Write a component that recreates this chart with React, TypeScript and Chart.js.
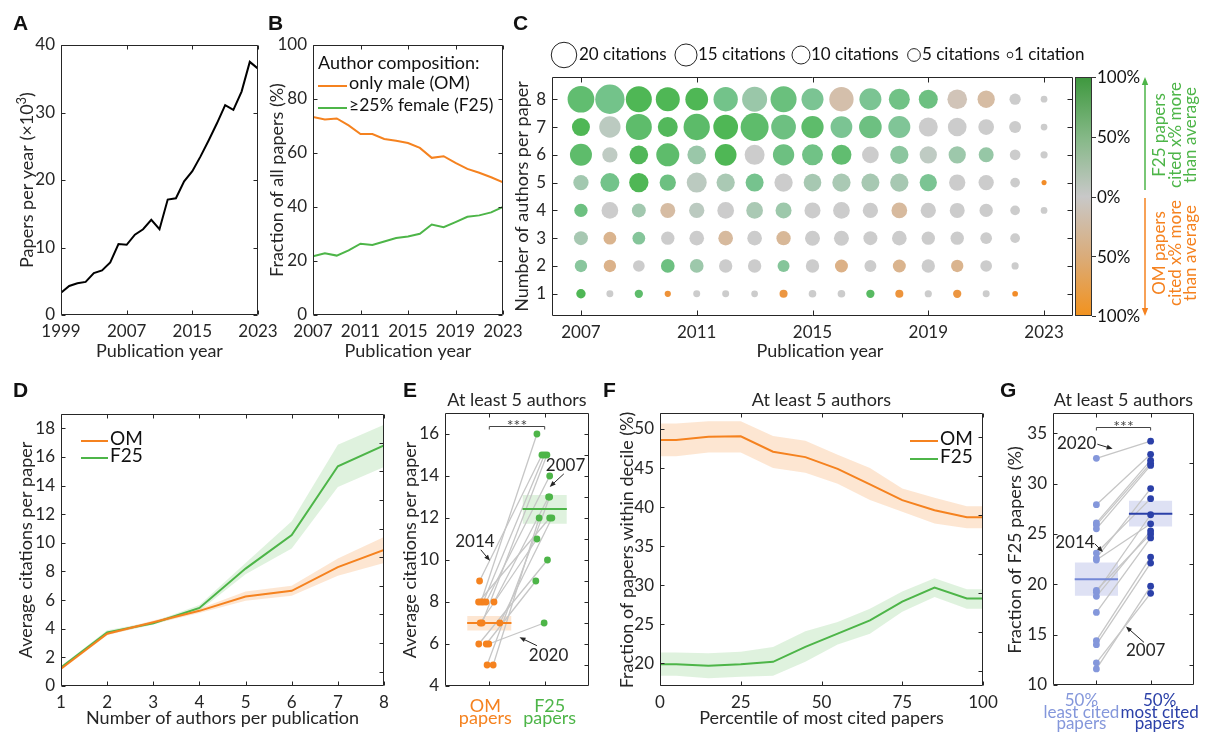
import React, { useEffect, useRef } from "react";
import { Chart, registerables } from "chart.js";

Chart.register(...registerables);

const W = 1208;
const H = 734;
const FONT = "Lato, 'Noto Sans', 'DejaVu Sans', sans-serif";
const LETTER_FONT = "'Liberation Sans', Arial, sans-serif";
const TXT = "#262626";
const ORANGE = "#F5821F";
const GREEN = "#4DB548";
const LIGHTBLUE = "#8497DB";
const DARKBLUE = "#2B40A8";
const PAIRLINE = "#C6C6C6";
const BAND_OM = "rgba(245,130,31,0.2)";
const BAND_F25 = "rgba(77,181,72,0.18)";
const BAND_BLUE = "rgba(90,105,200,0.2)";
const FS = 17;
const TS = 18;

// ---------------- Panel A ----------------
const yearsA = [1999, 2000, 2001, 2002, 2003, 2004, 2005, 2006, 2007, 2008, 2009, 2010, 2011, 2012, 2013, 2014, 2015, 2016, 2017, 2018, 2019, 2020, 2021, 2022, 2023];
const papersPerYearK = [3.3, 4.3, 4.7, 4.9, 6.2, 6.6, 7.8, 10.5, 10.4, 11.9, 12.7, 14.1, 12.7, 17.1, 17.3, 19.8, 21.3, 23.5, 25.9, 28.4, 31.1, 30.4, 33.1, 37.5, 36.5];
const ticksXA = [1999, 2007, 2015, 2023];
const ticksYA = [0, 10, 20, 30, 40];

// ---------------- Panel B ----------------
const yearsB = [2007, 2008, 2009, 2010, 2011, 2012, 2013, 2014, 2015, 2016, 2017, 2018, 2019, 2020, 2021, 2022, 2023];
const shareOM = [73.3, 72.4, 72.8, 70.2, 67.0, 67.0, 65.2, 64.5, 63.7, 61.9, 58.2, 58.8, 56.3, 54.1, 52.7, 51.0, 49.1];
const shareF25 = [21.7, 22.9, 22.0, 23.9, 26.4, 25.9, 27.2, 28.5, 29.1, 30.1, 33.5, 32.5, 34.4, 36.4, 36.9, 38.0, 40.0];
const ticksXB = [2007, 2011, 2015, 2019, 2023];
const ticksYB = [0, 20, 40, 60, 80, 100];

// ---------------- Panel C ----------------
const yearsC = [2007, 2008, 2009, 2010, 2011, 2012, 2013, 2014, 2015, 2016, 2017, 2018, 2019, 2020, 2021, 2022, 2023];
const authorsC = [1, 2, 3, 4, 5, 6, 7, 8];
// average citations per paper (rows: number of authors 1..8, columns: years)
const citationsC: (number | null)[][] = [
  [2.7, 1.5, 2.1, 1.2, 1.5, 1.5, 1.4, 2.0, 1.8, 1.8, 2.1, 2.0, 1.6, 2.1, 1.5, 1.0, null],
  [4.7, 4.7, 4.2, 5.8, 5.8, 5.5, 5.5, 4.4, 5.5, 5.2, 4.4, 5.2, 5.5, 4.7, 4.2, 1.6, null],
  [6.0, 5.0, 5.0, 5.5, 6.6, 6.6, 6.6, 6.3, 6.9, 6.9, 6.0, 6.6, 5.5, 5.5, 4.2, 2.9, null],
  [5.5, 8.6, 6.0, 6.9, 7.2, 8.6, 8.6, 7.9, 7.9, 8.6, 7.2, 7.6, 7.2, 6.9, 5.5, 2.9, 1.4],
  [7.2, 11.1, 11.5, 8.2, 12.3, 10.3, 10.0, 10.3, 9.6, 10.3, 10.0, 10.3, 9.2, 8.2, 7.2, 2.9, 0.8],
  [14.9, 7.2, 10.7, 16.3, 10.7, 14.5, 12.3, 14.0, 13.6, 12.3, 8.6, 10.3, 9.2, 9.2, 6.9, 3.5, 1.6],
  [10.0, 14.0, 20.8, 12.3, 21.3, 18.8, 24.1, 18.8, 15.3, 14.5, 15.8, 14.9, 11.1, 10.7, 7.6, 4.4, 1.4],
  [21.9, 26.4, 20.8, 17.7, 15.9, 18.2, 19.2, 20.8, 14.9, 18.2, 14.9, 13.6, 11.1, 11.9, 9.2, 3.9, 1.4],
];
// citation advantage in % (+: F25 cited more, -: OM cited more)
const advantageC: (number | null)[][] = [
  [95, 0, 78, -90, 0, 0, 0, -85, 0, 0, 85, -88, 0, -85, 0, -100, null],
  [40, -40, 0, 62, 28, 0, 0, 42, 0, -42, 0, -38, 0, -38, 0, 0, null],
  [22, -38, 42, 0, 0, -28, 0, -32, 0, 0, 0, 0, 0, 0, 0, 0, null],
  [62, 0, 25, -25, 10, 0, 20, 28, 0, 0, 0, -28, 0, 0, 0, 0, 0],
  [25, 55, 95, 62, 10, 20, 52, 0, 22, 20, 22, 22, 48, 0, 0, 0, -100],
  [78, 8, 92, 78, 30, 95, 0, 62, 58, 75, 0, 38, 8, 28, 32, 0, 0],
  [95, 10, 78, 90, 80, 95, 78, 62, 78, 48, 62, 45, 0, 0, 0, 0, 0],
  [75, 55, 95, 95, 95, 55, 30, 65, 48, -20, 48, 58, 62, -12, -25, 0, 0],
];
const legendCitations = [20, 15, 10, 5, 1];
const colorbarLabels = ["100%", "50%", "0%", "50%", "100%"];
const ticksXC = [2007, 2011, 2015, 2019, 2023];

// ---------------- Panel D ----------------
const authorsD = [1, 2, 3, 4, 5, 6, 7, 8];
const citOM_D = [1.2, 3.65, 4.45, 5.25, 6.25, 6.65, 8.3, 9.5];
const citOM_Dlo = [1.1, 3.55, 4.33, 5.1, 5.95, 6.3, 7.7, 8.6];
const citOM_Dhi = [1.3, 3.75, 4.57, 5.4, 6.6, 7.0, 8.9, 10.4];
const citF25_D = [1.3, 3.75, 4.38, 5.45, 8.2, 10.55, 15.35, 16.8];
const citF25_Dlo = [1.2, 3.6, 4.28, 5.25, 7.8, 9.6, 13.9, 15.3];
const citF25_Dhi = [1.4, 3.9, 4.48, 5.65, 8.6, 11.5, 16.85, 18.25];
const ticksYD = [0, 2, 4, 6, 8, 10, 12, 14, 16, 18];
const ticksYDright = [1, 3, 5, 7, 9, 11, 13, 15, 17];

// ---------------- Panel E ----------------
const yearsE = [2007, 2008, 2009, 2010, 2011, 2012, 2013, 2014, 2015, 2016, 2017, 2018, 2019, 2020];
const citOM_E = [8, 8, 8, 7, 8, 5, 7, 9, 8, 5, 7, 6, 6, 6];
const jitOM_E = [0.94, 0.85, 0.89, 0.87, 1.085, 0.96, 1.19, 0.824, 0.806, 1.07, 0.836, 0.81, 0.945, 0.99];
const citF25_E = [14, 16, 15, 15, 13, 13, 12, 15, 12, 12, 11, 10, 9, 7];
const jitF25_E = [2.09, 1.86, 1.995, 2.04, 2.07, 2.09, 2.13, 1.95, 2.09, 1.9, 1.86, 2.05, 1.84, 1.99];
const meanOM_E = 7.0;
const bandOM_E = [6.64, 7.33];
const meanF25_E = 12.43;
const bandF25_E = [11.73, 13.1];
const ticksYE = [4, 6, 8, 10, 12, 14, 16];
const ticksYEright = [5, 6, 7, 8, 9, 10, 11, 12, 13, 14, 15, 16];

// ---------------- Panel F ----------------
const pctF = [0, 5, 15, 25, 35, 45, 55, 65, 75, 85, 95, 100];
const fracOM_F = [48.6, 48.6, 49.0, 49.06, 47.1, 46.4, 44.9, 42.9, 40.9, 39.6, 38.7, 38.7];
const fracOM_Fhi = [50.7, 50.7, 51.0, 51.0, 49.1, 48.5, 46.7, 45.0, 42.4, 41.2, 40.1, 40.1];
const fracOM_Flo = [46.5, 46.5, 47.0, 47.0, 45.0, 44.4, 43.0, 40.9, 39.4, 37.9, 37.3, 37.3];
const fracF25_F = [19.9, 19.9, 19.7, 19.9, 20.2, 22.1, 23.8, 25.5, 27.9, 29.7, 28.3, 28.3];
const fracF25_Fhi = [21.4, 21.4, 21.3, 21.5, 22.1, 24.1, 25.3, 27.0, 29.2, 30.9, 29.5, 29.5];
const fracF25_Flo = [18.4, 18.4, 18.1, 18.3, 18.4, 20.2, 22.4, 23.8, 26.6, 28.5, 27.0, 27.0];
const ticksXF = [0, 25, 50, 75, 100];
const ticksYF = [20, 25, 30, 35, 40, 45, 50];
const ticksYFright = [19, 24, 29, 34, 39, 44, 49];

// ---------------- Panel G ----------------
const yearsG = [2007, 2008, 2009, 2010, 2011, 2012, 2013, 2014, 2015, 2016, 2017, 2018, 2019, 2020, 2021, 2022];
const fracLeastG = [11.6, 12.2, 14.0, 14.4, 17.2, 18.8, 19.2, 23.1, 19.4, 22.4, 22.6, 25.5, 25.9, 32.5, 26.1, 27.9];
const fracMostG = [19.8, 19.1, 22.1, 22.7, 24.6, 25.3, 26.9, 28.5, 25.0, 26.0, 29.5, 31.8, 32.0, 34.2, 32.3, 32.9];
const meanLeastG = 20.5;
const bandLeastG = [18.86, 22.17];
const meanMostG = 27.0;
const bandMostG = [25.74, 28.3];
const ticksYG = [10, 15, 20, 25, 30, 35];
const ticksYGright = [12, 17, 22, 27, 32];

// ---------------- annotations ----------------
const notesE = [
  { label: "2007", at: [2.376, 14.49], from: [2.345, 14.1], to: [2.09, 13.48] },
  { label: "2014", at: [0.74, 10.88], from: [0.845, 10.49], to: [1.013, 9.96] },
  { label: "2020", at: [2.07, 5.44], from: [1.86, 5.92], to: [1.545, 6.32] },
];
const notesG = [
  { label: "2020", at: [0.636, 33.94], from: [1.018, 33.9], to: [1.3, 33.44] },
  { label: "2014", at: [0.605, 24.15], from: [0.97, 24.02], to: [1.12, 23.2] },
  { label: "2007", at: [1.91, 13.43], from: [1.878, 14.23], to: [1.545, 15.81] },
];

// ---------------- helpers ----------------
type Box = { L: number; T: number; R: number; B: number };
type Ax = { min: number; max: number; ticks: number[]; labels?: boolean };
const YW = 40;
const XH = 24;
const UP = -Math.PI / 2;

function baseOptions(box: Box, x: Ax, y: Ax): any {
  const font = { family: FONT, size: FS };
  return {
    responsive: false,
    animation: false,
    events: [],
    layout: {
      autoPadding: false,
      padding: { left: box.L - YW, top: box.T, right: W - box.R, bottom: H - box.B - XH },
    },
    plugins: { legend: { display: false }, tooltip: { enabled: false }, title: { display: false } },
    scales: {
      x: {
        type: "linear",
        min: x.min,
        max: x.max,
        afterBuildTicks: (s: any) => {
          s.ticks = x.ticks.map((v) => ({ value: v }));
        },
        afterFit: (s: any) => {
          s.height = XH;
        },
        grid: { display: false, drawTicks: false },
        border: { display: false },
        ticks: {
          display: x.labels !== false,
          padding: 6,
          autoSkip: false,
          maxRotation: 0,
          minRotation: 0,
          color: TXT,
          font,
          callback: (v: any) => String(v),
        },
      },
      y: {
        type: "linear",
        min: y.min,
        max: y.max,
        afterBuildTicks: (s: any) => {
          s.ticks = y.ticks.map((v) => ({ value: v }));
        },
        afterFit: (s: any) => {
          s.width = YW;
        },
        grid: { display: false, drawTicks: false },
        border: { display: false },
        ticks: {
          display: y.labels !== false,
          padding: 6,
          autoSkip: false,
          color: TXT,
          font,
          callback: (v: any) => String(v),
        },
      },
    },
  };
}

function txt(ctx: CanvasRenderingContext2D, s: string, x: number, y: number, o: any = {}) {
  ctx.save();
  ctx.font = `${o.weight || "normal"} ${o.size || FS}px ${o.family || FONT}`;
  ctx.fillStyle = o.color || TXT;
  ctx.textAlign = o.align || "center";
  ctx.textBaseline = o.baseline || "middle";
  ctx.translate(x, y);
  if (o.rot) ctx.rotate(o.rot);
  ctx.fillText(s, 0, 0);
  ctx.restore();
}

function letter(ctx: CanvasRenderingContext2D, s: string, x: number, y: number) {
  txt(ctx, s, x, y, { weight: "bold", size: 21, family: LETTER_FONT, color: "#111", align: "left", baseline: "alphabetic" });
}

function arrow(ctx: CanvasRenderingContext2D, x1: number, y1: number, x2: number, y2: number, color = TXT, lw = 1, head = 6) {
  const a = Math.atan2(y2 - y1, x2 - x1);
  const c = Math.cos(a);
  const s = Math.sin(a);
  ctx.save();
  ctx.strokeStyle = color;
  ctx.fillStyle = color;
  ctx.lineWidth = lw;
  ctx.beginPath();
  ctx.moveTo(x1, y1);
  ctx.lineTo(x2 - c * head * 0.7, y2 - s * head * 0.7);
  ctx.stroke();
  ctx.beginPath();
  ctx.moveTo(x2, y2);
  ctx.lineTo(x2 - head * c + head * 0.4 * s, y2 - head * s - head * 0.4 * c);
  ctx.lineTo(x2 - head * c - head * 0.4 * s, y2 - head * s + head * 0.4 * c);
  ctx.closePath();
  ctx.fill();
  ctx.restore();
}

type TickSpec = { xb: number[]; xt?: number[]; yl: number[]; yr?: number[]; len?: number };

function deco(id: string, t: TickSpec, extra?: (chart: any, ctx: CanvasRenderingContext2D) => void) {
  return {
    id,
    afterDraw(chart: any) {
      const ctx: CanvasRenderingContext2D = chart.ctx;
      const a = chart.chartArea;
      const sx = chart.scales.x;
      const sy = chart.scales.y;
      const len = t.len ?? 4;
      const L = Math.round(a.left) + 0.5;
      const R = Math.round(a.right) - 0.5;
      const T = Math.round(a.top) + 0.5;
      const B = Math.round(a.bottom) - 0.5;
      ctx.save();
      ctx.strokeStyle = TXT;
      ctx.lineWidth = 1;
      ctx.beginPath();
      ctx.rect(L, T, R - L, B - T);
      for (const v of t.xb) {
        const x = Math.round(sx.getPixelForValue(v)) + 0.5;
        ctx.moveTo(x, B);
        ctx.lineTo(x, B - len);
      }
      for (const v of t.xt ?? t.xb) {
        const x = Math.round(sx.getPixelForValue(v)) + 0.5;
        ctx.moveTo(x, T);
        ctx.lineTo(x, T + len);
      }
      for (const v of t.yl) {
        const y = Math.round(sy.getPixelForValue(v)) + 0.5;
        ctx.moveTo(L, y);
        ctx.lineTo(L + len, y);
      }
      for (const v of t.yr ?? t.yl) {
        const y = Math.round(sy.getPixelForValue(v)) + 0.5;
        ctx.moveTo(R, y);
        ctx.lineTo(R - len, y);
      }
      ctx.stroke();
      ctx.restore();
      if (extra) extra(chart, ctx);
    },
  };
}

const xy = (xs: number[], ys: number[]) => xs.map((x, i) => ({ x, y: ys[i] }));
const lineDs = (data: any[], color: string, width = 2) => ({ data, borderColor: color, borderWidth: width, pointRadius: 0, fill: false, tension: 0 });
const bandPair = (hi: any[], lo: any[], color: string) => [
  { data: hi, borderWidth: 0, borderColor: "transparent", pointRadius: 0, fill: "+1", backgroundColor: color },
  { data: lo, borderWidth: 0, borderColor: "transparent", pointRadius: 0, fill: false },
];
const BAND_HALF = 0.4;
const boxBand = (cx: number, lohi: number[], color: string) =>
  bandPair(
    [{ x: cx - BAND_HALF, y: lohi[1] }, { x: cx + BAND_HALF, y: lohi[1] }],
    [{ x: cx - BAND_HALF, y: lohi[0] }, { x: cx + BAND_HALF, y: lohi[0] }],
    color
  );
const meanLine = (cx: number, v: number, color: string) =>
  lineDs([{ x: cx - BAND_HALF, y: v }, { x: cx + BAND_HALF, y: v }], color, 2);

function sigBracket(chart: any, ctx: CanvasRenderingContext2D, yv: number) {
  const sx = chart.scales.x;
  const sy = chart.scales.y;
  const x1 = sx.getPixelForValue(1);
  const x2 = sx.getPixelForValue(2);
  const y = Math.round(sy.getPixelForValue(yv)) + 0.5;
  ctx.save();
  ctx.strokeStyle = "#444";
  ctx.lineWidth = 1;
  ctx.beginPath();
  ctx.moveTo(x1, y + 3);
  ctx.lineTo(x1, y);
  ctx.lineTo(x2, y);
  ctx.lineTo(x2, y + 3);
  ctx.stroke();
  ctx.restore();
  txt(ctx, "***", (x1 + x2) / 2, y + 4.5, { size: 16, baseline: "alphabetic", color: "#444" });
}

function notes(chart: any, ctx: CanvasRenderingContext2D, list: typeof notesE) {
  const sx = chart.scales.x;
  const sy = chart.scales.y;
  for (const n of list) {
    txt(ctx, n.label, sx.getPixelForValue(n.at[0]), sy.getPixelForValue(n.at[1]));
    arrow(ctx, sx.getPixelForValue(n.from[0]), sy.getPixelForValue(n.from[1]), sx.getPixelForValue(n.to[0]), sy.getPixelForValue(n.to[1]));
  }
}

// colour map of the bubble chart
const GRAY = [204, 204, 204];
const GMID = [120, 196, 145];
const GFULL = [74, 181, 78];
const OFULL = [242, 140, 40];
const mix = (a: number[], b: number[], t: number) => a.map((v, i) => Math.round(v + (b[i] - v) * t));
function advantageColor(v: number) {
  let c: number[];
  if (v >= 50) c = mix(GMID, GFULL, Math.min(1, (v - 50) / 50));
  else if (v >= 0) c = mix(GRAY, GMID, v / 50);
  else c = mix(GRAY, OFULL, Math.min(1, -v / 100));
  return `rgb(${c.join(",")})`;
}
const bubbleRadius = (c: number) => 2.85 * Math.sqrt(c);

// ---------------- chart factories ----------------
function makeA() {
  const box = { L: 61, T: 45, R: 258, B: 315 };
  return {
    type: "line",
    data: { datasets: [lineDs(xy(yearsA, papersPerYearK), "#000", 2)] },
    options: baseOptions(box, { min: 1999, max: 2023, ticks: ticksXA }, { min: 0, max: 40, ticks: ticksYA }),
    plugins: [
      deco("decoA", { xb: ticksXA, yl: ticksYA }, (chart, ctx) => {
        letter(ctx, "A", 13, 30);
        txt(ctx, "Publication year", 159.5, 351, { size: TS });
        // y label with superscript
        ctx.save();
        ctx.translate(27, 180);
        ctx.rotate(UP);
        ctx.fillStyle = TXT;
        ctx.textBaseline = "alphabetic";
        ctx.textAlign = "left";
        const a = "Papers per year (×10";
        const b = "3";
        const c = ")";
        ctx.font = `${TS}px ${FONT}`;
        const wa = ctx.measureText(a).width;
        const wc = ctx.measureText(c).width;
        ctx.font = `13px ${FONT}`;
        const wb = ctx.measureText(b).width;
        const s0 = -(wa + wb + wc) / 2;
        ctx.font = `${TS}px ${FONT}`;
        ctx.fillText(a, s0, 6);
        ctx.font = `13px ${FONT}`;
        ctx.fillText(b, s0 + wa, -1);
        ctx.font = `${TS}px ${FONT}`;
        ctx.fillText(c, s0 + wa + wb, 6);
        ctx.restore();
      }),
    ],
  };
}

function makeB() {
  const box = { L: 313, T: 45, R: 503, B: 315 };
  return {
    type: "line",
    data: { datasets: [lineDs(xy(yearsB, shareOM), ORANGE, 2), lineDs(xy(yearsB, shareF25), GREEN, 2)] },
    options: baseOptions(box, { min: 2007, max: 2023, ticks: ticksXB }, { min: 0, max: 100, ticks: ticksYB }),
    plugins: [
      deco("decoB", { xb: ticksXB, yl: ticksYB }, (chart, ctx) => {
        letter(ctx, "B", 268, 30);
        txt(ctx, "Publication year", 408, 351, { size: TS });
        txt(ctx, "Fraction of all papers (%)", 277, 180, { rot: UP, size: TS });
        txt(ctx, "Author composition:", 318, 63, { align: "left", color: "#111", size: TS });
        ctx.save();
        ctx.lineWidth = 2;
        ctx.strokeStyle = ORANGE;
        ctx.beginPath();
        ctx.moveTo(318, 86);
        ctx.lineTo(347, 86);
        ctx.stroke();
        ctx.strokeStyle = GREEN;
        ctx.beginPath();
        ctx.moveTo(318, 108);
        ctx.lineTo(347, 108);
        ctx.stroke();
        ctx.restore();
        txt(ctx, "only male (OM)", 349, 83, { align: "left", color: "#111", size: TS });
        txt(ctx, "≥25% female (F25)", 349, 105, { align: "left", color: "#111", size: 17.5 });
      }),
    ],
  };
}

function makeC() {
  const box = { L: 552, T: 77, R: 1073, B: 316 };
  const pts: any[] = [];
  const cols: string[] = [];
  authorsC.forEach((n, i) =>
    yearsC.forEach((yr, j) => {
      const c = citationsC[i][j];
      if (c == null) return;
      pts.push({ x: yr, y: n, r: bubbleRadius(c) });
      cols.push(advantageColor(advantageC[i][j] ?? 0));
    })
  );
  const legendCx = [564, 686, 801, 914, 1010];
  const legendTx = [579, 698, 811, 922, 1014];
  return {
    type: "bubble",
    data: { datasets: [{ data: pts, backgroundColor: cols, borderWidth: 0, hoverRadius: 0 }] },
    options: baseOptions(box, { min: 2006, max: 2024, ticks: ticksXC }, { min: 0.2, max: 8.8, ticks: authorsC }),
    plugins: [
      deco("decoC", { xb: ticksXC, yl: authorsC, len: 5 }, (chart, ctx) => {
        const a = chart.chartArea;
        letter(ctx, "C", 513, 30);
        txt(ctx, "Publication year", 820, 351, { size: TS });
        txt(ctx, "Number of authors per paper", 522, (a.top + a.bottom) / 2, { rot: UP, size: TS });
        // size legend
        legendCitations.forEach((c, i) => {
          ctx.save();
          ctx.strokeStyle = "#222";
          ctx.lineWidth = 1;
          ctx.beginPath();
          ctx.arc(legendCx[i], 55, bubbleRadius(c), 0, Math.PI * 2);
          ctx.stroke();
          ctx.restore();
          txt(ctx, `${c} citation${c === 1 ? "" : "s"}`, legendTx[i], 55, { align: "left", color: "#111", size: 17 });
        });
        // colour bar
        const cbL = a.right + 2;
        const cbW = 17;
        const g = ctx.createLinearGradient(0, a.top, 0, a.bottom);
        g.addColorStop(0, "rgb(62,152,62)");
        g.addColorStop(0.25, "rgb(132,184,134)");
        g.addColorStop(0.5, "rgb(200,200,200)");
        g.addColorStop(0.75, "rgb(218,172,122)");
        g.addColorStop(1, "rgb(242,146,30)");
        ctx.save();
        ctx.fillStyle = g;
        ctx.fillRect(cbL, a.top, cbW, a.bottom - a.top);
        ctx.strokeStyle = "#333";
        ctx.lineWidth = 1;
        ctx.strokeRect(Math.round(cbL) + 0.5, Math.round(a.top) + 0.5, cbW - 1, a.bottom - a.top - 1);
        colorbarLabels.forEach((s, i) => {
          const y = a.top + (i * (a.bottom - a.top)) / 4;
          ctx.beginPath();
          ctx.moveTo(cbL + cbW, Math.round(y) + 0.5);
          ctx.lineTo(cbL + cbW + 4, Math.round(y) + 0.5);
          ctx.stroke();
        });
        ctx.restore();
        colorbarLabels.forEach((s, i) => {
          const y = a.top + (i * (a.bottom - a.top)) / 4;
          txt(ctx, s, cbL + cbW + 5, y + 1, { align: "left", color: "#111" });
        });
        const axX = cbL + 70;
        arrow(ctx, axX, 190, axX, a.top, GREEN, 1.5, 8);
        arrow(ctx, axX, 198, axX, a.bottom, ORANGE, 1.5, 8);
        const colX = [axX + 15, axX + 31, axX + 46];
        ["F25 papers", "cited x% more", "than average"].forEach((s, i) => txt(ctx, s, colX[i], 135, { rot: UP, color: GREEN }));
        ["OM papers", "cited x% more", "than average"].forEach((s, i) => txt(ctx, s, colX[i], 253, { rot: UP, color: ORANGE }));
      }),
    ],
  };
}

function legendLines(ctx: CanvasRenderingContext2D, x0: number, x1: number, items: { label: string; color: string; y: number }[]) {
  for (const it of items) {
    ctx.save();
    ctx.strokeStyle = it.color;
    ctx.lineWidth = 2;
    ctx.beginPath();
    ctx.moveTo(x0, it.y + 2);
    ctx.lineTo(x1, it.y + 2);
    ctx.stroke();
    ctx.restore();
    txt(ctx, it.label, x1 + 2, it.y, { align: "left", color: "#111", size: 19 });
  }
}

function makeD() {
  const box = { L: 61, T: 414, R: 384, B: 686 };
  const datasets = [
    lineDs(xy(authorsD, citOM_D), ORANGE),
    lineDs(xy(authorsD, citF25_D), GREEN),
    ...bandPair(xy(authorsD, citOM_Dhi), xy(authorsD, citOM_Dlo), BAND_OM),
    ...bandPair(xy(authorsD, citF25_Dhi), xy(authorsD, citF25_Dlo), BAND_F25),
  ];
  return {
    type: "line",
    data: { datasets },
    options: baseOptions(box, { min: 1, max: 8, ticks: authorsD }, { min: 0, max: 19, ticks: ticksYD }),
    plugins: [
      deco("decoD", { xb: authorsD, yl: ticksYD, yr: ticksYDright }, (chart, ctx) => {
        letter(ctx, "D", 13, 397);
        txt(ctx, "Number of authors per publication", 222.5, 718, { size: TS });
        txt(ctx, "Average citations per paper", 26, 550, { rot: UP, size: TS });
        legendLines(ctx, 81, 108, [
          { label: "OM", color: ORANGE, y: 439 },
          { label: "F25", color: GREEN, y: 456 },
        ]);
      }),
    ],
  };
}

function makeE() {
  const box = { L: 445, T: 413, R: 589, B: 686 };
  const datasets: any[] = [
    { data: xy(jitOM_E, citOM_E), showLine: false, pointRadius: 3.4, pointBackgroundColor: ORANGE, pointBorderWidth: 0, borderColor: ORANGE },
    { data: xy(jitF25_E, citF25_E), showLine: false, pointRadius: 3.4, pointBackgroundColor: GREEN, pointBorderWidth: 0, borderColor: GREEN },
    meanLine(1, meanOM_E, ORANGE),
    meanLine(2, meanF25_E, GREEN),
    ...yearsE.map((_, i) => lineDs([{ x: jitOM_E[i], y: citOM_E[i] }, { x: jitF25_E[i], y: citF25_E[i] }], PAIRLINE, 1.3)),
    ...boxBand(1, bandOM_E, BAND_OM),
    ...boxBand(2, bandF25_E, BAND_F25),
  ];
  return {
    type: "line",
    data: { datasets },
    options: baseOptions(box, { min: 0.2, max: 2.8, ticks: [1, 2], labels: false }, { min: 4, max: 17, ticks: ticksYE }),
    plugins: [
      deco("decoE", { xb: [1, 2], yl: ticksYE, yr: ticksYEright }, (chart, ctx) => {
        const sx = chart.scales.x;
        letter(ctx, "E", 403, 397);
        txt(ctx, "At least 5 authors", 517, 400, { size: TS });
        txt(ctx, "Average citations per paper", 410, 550, { rot: UP, size: TS });
        const c1 = sx.getPixelForValue(1) - 4;
        const c2 = sx.getPixelForValue(2) + 5;
        txt(ctx, "OM", c1, 712, { color: ORANGE, baseline: "alphabetic", size: TS });
        txt(ctx, "papers", c1, 724, { color: ORANGE, baseline: "alphabetic", size: TS });
        txt(ctx, "F25", c2, 712, { color: GREEN, baseline: "alphabetic", size: TS });
        txt(ctx, "papers", c2, 724, { color: GREEN, baseline: "alphabetic", size: TS });
        sigBracket(chart, ctx, 16.37);
        notes(chart, ctx, notesE);
      }),
    ],
  };
}

function makeF() {
  const box = { L: 660, T: 413, R: 983, B: 686 };
  const datasets = [
    lineDs(xy(pctF, fracOM_F), ORANGE),
    lineDs(xy(pctF, fracF25_F), GREEN),
    ...bandPair(xy(pctF, fracOM_Fhi), xy(pctF, fracOM_Flo), BAND_OM),
    ...bandPair(xy(pctF, fracF25_Fhi), xy(pctF, fracF25_Flo), BAND_F25),
  ];
  return {
    type: "line",
    data: { datasets },
    options: baseOptions(box, { min: 0, max: 100, ticks: ticksXF }, { min: 17.1, max: 52.05, ticks: ticksYF }),
    plugins: [
      deco("decoF", { xb: ticksXF, yl: ticksYF, yr: ticksYFright }, (chart, ctx) => {
        letter(ctx, "F", 603, 397);
        txt(ctx, "At least 5 authors", 821.5, 400, { size: TS });
        txt(ctx, "Percentile of most cited papers", 821.5, 718, { size: TS });
        txt(ctx, "Fraction of papers within decile (%)", 627, 550, { rot: UP, size: TS });
        legendLines(ctx, 910, 938, [
          { label: "OM", color: ORANGE, y: 439 },
          { label: "F25", color: GREEN, y: 457 },
        ]);
      }),
    ],
  };
}

function makeG() {
  const box = { L: 1053, T: 413, R: 1194, B: 685 };
  const datasets: any[] = [
    { data: fracLeastG.map((y) => ({ x: 1, y })), showLine: false, pointRadius: 3.4, pointBackgroundColor: LIGHTBLUE, pointBorderWidth: 0, borderColor: LIGHTBLUE },
    { data: fracMostG.map((y) => ({ x: 2, y })), showLine: false, pointRadius: 3.4, pointBackgroundColor: DARKBLUE, pointBorderWidth: 0, borderColor: DARKBLUE },
    meanLine(1, meanLeastG, "#7387D6"),
    meanLine(2, meanMostG, DARKBLUE),
    ...yearsG.map((_, i) => lineDs([{ x: 1, y: fracLeastG[i] }, { x: 2, y: fracMostG[i] }], PAIRLINE, 1.3)),
    ...boxBand(1, bandLeastG, BAND_BLUE),
    ...boxBand(2, bandMostG, BAND_BLUE),
  ];
  return {
    type: "line",
    data: { datasets },
    options: baseOptions(box, { min: 0.2, max: 2.8, ticks: [1, 2], labels: false }, { min: 10, max: 37, ticks: ticksYG }),
    plugins: [
      deco("decoG", { xb: [1, 2], yl: ticksYG, yr: ticksYGright }, (chart, ctx) => {
        const sx = chart.scales.x;
        letter(ctx, "G", 1000, 397);
        txt(ctx, "At least 5 authors", 1123.5, 400, { size: TS });
        txt(ctx, "Fraction of F25 papers (%)", 1015, 550, { rot: UP, size: TS });
        const c1 = sx.getPixelForValue(1) - 15;
        const c2 = sx.getPixelForValue(2) + 9;
        const bl = [706, 718, 729];
        ["50%", "least cited", "papers"].forEach((s, i) => txt(ctx, s, c1, bl[i], { color: LIGHTBLUE, baseline: "alphabetic" }));
        ["50%", "most cited", "papers"].forEach((s, i) => txt(ctx, s, c2, bl[i], { color: DARKBLUE, baseline: "alphabetic" }));
        sigBracket(chart, ctx, 35.65);
        notes(chart, ctx, notesG);
      }),
    ],
  };
}

function ChartCanvas({ make }: { make: () => any }) {
  const ref = useRef<HTMLCanvasElement>(null);
  useEffect(() => {
    const chart = new Chart(ref.current as HTMLCanvasElement, make());
    return () => chart.destroy();
  }, [make]);
  return <canvas ref={ref} width={W} height={H} style={{ position: "absolute", left: 0, top: 0, width: W, height: H }} />;
}

const FACTORIES = [makeA, makeB, makeC, makeD, makeE, makeF, makeG];

export default function App() {
  return (
    <div style={{ position: "fixed", left: 0, top: 0, width: W, height: H, background: "#fff", overflow: "hidden" }}>
      {FACTORIES.map((f, i) => (
        <ChartCanvas key={i} make={f} />
      ))}
    </div>
  );
}
